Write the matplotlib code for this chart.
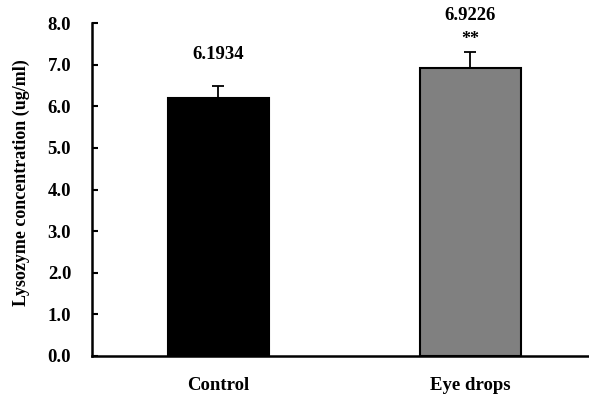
import numpy as np
import matplotlib
matplotlib.use("Agg")
import matplotlib.pyplot as plt

# data
groups = ["Control", "Eye drops"]
means = [6.1934, 6.9226]
errors = [0.30, 0.39]
bar_colors = ["#000000", "#808080"]
value_labels = ["6.1934", "6.9226"]
signif = ["", "**"]
y_ticks = [0, 1, 2, 3, 4, 5, 6, 7, 8]

plt.rcParams["font.family"] = ["Liberation Serif", "DejaVu Serif"]
plt.rcParams["font.weight"] = "bold"


def main():
    fig = plt.figure(figsize=(5.89, 4.0), dpi=100)
    ax = fig.add_axes([92 / 589, 44 / 400, 497 / 589, 333 / 400])

    x = np.arange(len(groups))
    ax.bar(x, means, width=0.4, color=bar_colors, edgecolor="black",
           linewidth=1.5, zorder=2)
    # only the upper whisker, like the original
    ax.errorbar(x, means, yerr=[np.zeros(len(errors)), errors], fmt="none",
                ecolor="black", elinewidth=1.3, capsize=4, capthick=1.3,
                zorder=1)

    for i in range(len(groups)):
        top = means[i] + errors[i]
        if signif[i]:
            ax.text(x[i], top + 0.30, signif[i], ha="center", va="center",
                    fontsize=13, fontweight="bold", clip_on=False)
            ax.text(x[i], top + 0.87, value_labels[i], ha="center",
                    va="center", fontsize=13.5, fontweight="bold",
                    clip_on=False)
        else:
            ax.text(x[i], top + 0.75, value_labels[i], ha="center",
                    va="center", fontsize=13.5, fontweight="bold",
                    clip_on=False)

    ax.set_xlim(-0.5, 1.47)
    ax.set_ylim(0, 8)
    ax.set_yticks(y_ticks)
    ax.set_yticklabels([f"{v:.1f}" for v in y_ticks], fontsize=13.5,
                       fontweight="bold")
    ax.set_xticks(x)
    ax.set_xticklabels(groups, fontsize=13.5, fontweight="bold")

    ax.tick_params(axis="y", direction="in", length=4, width=1.5, pad=15)
    ax.tick_params(axis="x", length=0, pad=15)

    for side in ["top", "right"]:
        ax.spines[side].set_visible(False)
    for side in ["left", "bottom"]:
        ax.spines[side].set_linewidth(1.8)

    ax.set_ylabel("Lysozyme concentration (ug/ml)", fontsize=13,
                  fontweight="bold", va="center")
    ax.yaxis.set_label_coords(-0.142, 0.52)

    fig.savefig("out.png", dpi=100)


if __name__ == "__main__":
    main()
